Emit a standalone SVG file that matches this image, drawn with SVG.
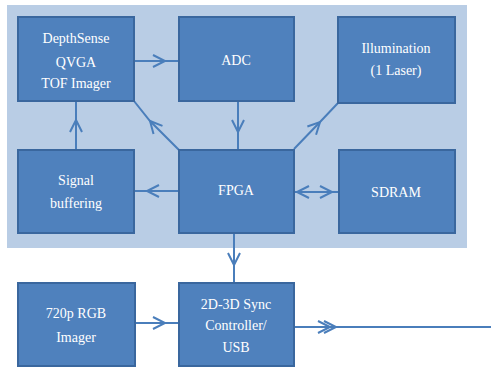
<svg xmlns="http://www.w3.org/2000/svg" width="491" height="367" viewBox="0 0 491 367" font-family="Liberation Serif, Times New Roman, serif">
<defs>
<style>
.box{fill:#4f81bd;stroke:#3a679e;stroke-width:2}
.t{fill:#ffffff;font-size:14px;text-anchor:middle}
.c{fill:none;stroke:#4a7ebb;stroke-width:2;marker-mid:url(#chev)}
.l{fill:none;stroke:#4a7ebb;stroke-width:2}
</style>
<marker id="chev" markerUnits="userSpaceOnUse" markerWidth="20" markerHeight="20" refX="0" refY="0" orient="auto" overflow="visible">
<path d="M-12,-6 L0,0 L-12,6" fill="none" stroke="#4a7ebb" stroke-width="2"/>
</marker>
</defs>
<rect width="491" height="367" fill="#ffffff"/>
<rect x="7" y="5" width="460" height="243" fill="#b9cde5"/>
<g id="connectors">
<path class="c" d="M134,61 L165,61 L179,61"/>
<path class="c" d="M238,101 L238,132 L238,150"/>
<path class="c" d="M76,150 L76,120 L76,101"/>
<path class="c" d="M179,150 L150,121 L134,101"/>
<path class="c" d="M294,149 L320,122 L338,103"/>
<path class="c" d="M179,191 L147,191 L134,191"/>
<path class="c" d="M316,192 L297,192 L294,192"/>
<path class="c" d="M316,192 L332,192 L339,192"/>
<path class="c" d="M234,233 L234,265 L234,283"/>
<path class="c" d="M135,323 L165,323 L179,323"/>
<path class="l" d="M294,327 L491,327"/>
<path d="M318,321 L330,327 L318,333 M324,321 L336,327 L324,333" fill="none" stroke="#4a7ebb" stroke-width="2"/>
</g>
<g id="depthsense">
<rect class="box" x="18" y="17" width="116" height="84"/>
<text class="t" x="76" y="43">DepthSense</text>
<text class="t" x="76" y="67">QVGA</text>
<text class="t" x="76" y="88">TOF Imager</text>
</g>
<g id="adc">
<rect class="box" x="179" y="17" width="115" height="84"/>
<text class="t" x="236" y="65">ADC</text>
</g>
<g id="illumination">
<rect class="box" x="338" y="17" width="117" height="86"/>
<text class="t" x="396" y="53">Illumination</text>
<text class="t" x="396" y="75">(1 Laser)</text>
</g>
<g id="signal">
<rect class="box" x="18" y="150" width="116" height="83"/>
<text class="t" x="76" y="185">Signal</text>
<text class="t" x="76" y="208">buffering</text>
</g>
<g id="fpga">
<rect class="box" x="179" y="150" width="115" height="83"/>
<text class="t" x="236" y="195">FPGA</text>
</g>
<g id="sdram">
<rect class="box" x="339" y="150" width="116" height="83"/>
<text class="t" x="396" y="197">SDRAM</text>
</g>
<g id="rgb">
<rect class="box" x="18" y="283" width="117" height="83"/>
<text class="t" x="76" y="318">720p RGB</text>
<text class="t" x="76" y="342">Imager</text>
</g>
<g id="sync">
<rect class="box" x="179" y="283" width="115" height="83"/>
<text class="t" x="236" y="309">2D-3D Sync</text>
<text class="t" x="236" y="330">Controller/</text>
<text class="t" x="236" y="352">USB</text>
</g>
</svg>
